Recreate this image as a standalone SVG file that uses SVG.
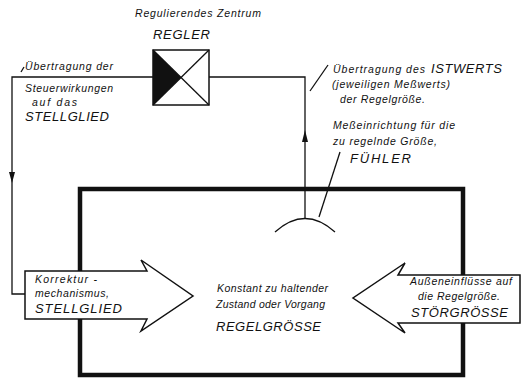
<svg xmlns="http://www.w3.org/2000/svg" width="523" height="380" viewBox="0 0 523 380">
<style>
.t{font-family:"Liberation Sans",Arial,sans-serif;font-style:italic;font-size:10.5px;fill:#111}
.c{font-family:"Liberation Sans",Arial,sans-serif;font-style:italic;font-size:13px;fill:#111;letter-spacing:1px}
.ln{stroke:#111;stroke-width:1.3;fill:none}
.box{stroke:#111;stroke-width:1.5;fill:#fff}
</style>
<rect width="523" height="380" fill="#fff"/>
<g id="process">
<rect x="80" y="189" width="383" height="186" fill="none" stroke="#111" stroke-width="4.5"/>
<text class="t" x="217" y="292" textLength="111">Konstant zu haltender</text>
<text class="t" x="216" y="308" textLength="109">Zustand oder Vorgang</text>
<text class="c" x="216" y="331" textLength="106">REGELGRÖSSE</text>
</g>
<g id="connectors">
<polyline class="ln" points="153,77 12,77 12,294 25,294"/>
<polygon points="9,172 15,172 12,183" fill="#111"/>
<polyline class="ln" points="209,77 305,77 305,218"/>
<polygon points="302,142 308,142 305,130" fill="#111"/>
<line class="ln" x1="310" y1="91" x2="328" y2="65"/>
<line class="ln" x1="319" y1="217" x2="340" y2="152"/>
<line class="ln" x1="21" y1="72" x2="24" y2="67"/>
</g>
<g id="regler">
<text class="t" x="135" y="17" textLength="126">Regulierendes Zentrum</text>
<text class="c" x="153" y="39" textLength="58">REGLER</text>
<rect class="box" x="153" y="50" width="56" height="55"/>
<polygon points="153,50 181,77.5 153,105" fill="#111"/>
<line class="ln" x1="153" y1="50" x2="209" y2="105"/>
<line class="ln" x1="209" y1="50" x2="153" y2="105"/>
</g>
<g id="label-steuer">
<text class="t" x="25" y="70" textLength="88">Übertragung der</text>
<text class="t" x="25" y="92" textLength="88">Steuerwirkungen</text>
<text class="t" x="32" y="106" textLength="45">auf das</text>
<text class="c" x="25" y="121" textLength="85">STELLGLIED</text>
</g>
<g id="label-istwert">
<text class="t" x="333" y="73" textLength="92">Übertragung des</text>
<text class="c" x="431" y="73" font-size="14" textLength="72">ISTWERTS</text>
<text class="t" x="332" y="88" textLength="118">(jeweiligen Meßwerts)</text>
<text class="t" x="340" y="103" textLength="85">der Regelgröße.</text>
</g>
<g id="fuehler">
<path class="ln" d="M275,232 Q305,205 335,232" stroke-width="2.2"/>
<text class="t" x="333" y="129" textLength="122">Meßeinrichtung für die</text>
<text class="t" x="333" y="145" textLength="104">zu regelnde Größe,</text>
<text class="c" x="350" y="163" textLength="62">FÜHLER</text>
</g>
<g id="stellglied">
<polygon class="box" points="25,271 147,271 141,260 193,296 141,331 147,319 25,319"/>
<text class="t" x="35" y="283" textLength="62">Korrektur -</text>
<text class="t" x="35" y="297" textLength="74">mechanismus,</text>
<text class="c" x="35" y="313" textLength="88">STELLGLIED</text>
</g>
<g id="stoergroesse">
<polygon class="box" points="520,275 398,275 405,263 353,298 405,333 398,323 520,323"/>
<text class="t" x="410" y="285" textLength="102">Außeneinflüsse auf</text>
<text class="t" x="418" y="300" textLength="82">die Regelgröße.</text>
<text class="c" x="411" y="317" textLength="98">STÖRGRÖSSE</text>
</g>
</svg>
